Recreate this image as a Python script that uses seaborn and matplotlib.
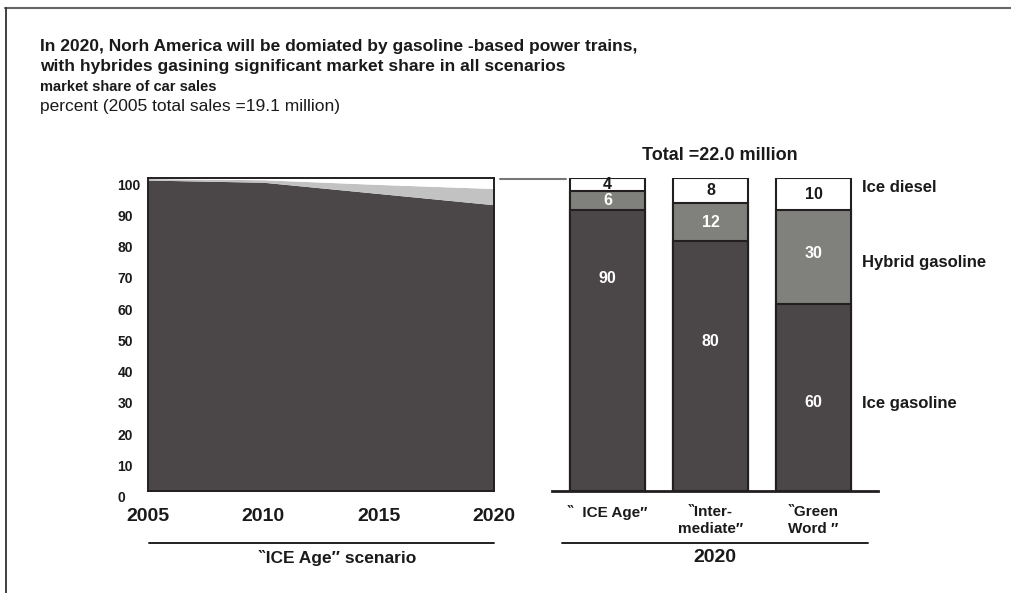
import numpy as np
import pandas as pd
import matplotlib
matplotlib.use("Agg")
import matplotlib.pyplot as plt
import matplotlib.transforms as mtransforms
from matplotlib.lines import Line2D
import seaborn as sns

# ---------------- data ----------------
years = [2005, 2010, 2015, 2020]
area_gasoline = [99.5, 98.8, 95.2, 91.6]
area_hybrid = [0.5, 0.8, 2.9, 5.2]
area_diesel = [0.0, 0.4, 1.9, 3.2]

scenarios = ["\u2036  ICE Age\u2033", "\u2036Inter-\nmediate\u2033", "\u2036Green\nWord \u2033"]
bar_gasoline = [90, 80, 60]
bar_hybrid = [6, 12, 30]
bar_diesel = [4, 8, 10]
series_names = ["Ice diesel", "Hybrid gasoline", "Ice gasoline"]

yticks = [0, 10, 20, 30, 40, 50, 60, 70, 80, 90, 100]

title_lines = ["In 2020, Norh America will be domiated by gasoline -based power trains,",
               "with hybrides gasining significant market share in all scenarios"]
subtitle = "market share of car sales"
unit_line = "percent (2005 total sales =19.1 million)"
total_text = "Total =22.0 million"
left_group = "\u2036ICE Age\u2033 scenario"
right_group = "2020"

# ---------------- style ----------------
sns.set_style("white")
FAM = ["Liberation Sans", "DejaVu Sans"]
plt.rcParams["font.family"] = FAM

DARK = "#4b4647"
HYB_BAR = "#80817c"
HYB_AREA = "#c2c2c2"
EDGE = "#231f20"
TXT = "#1a1a1a"

W, H = 1011, 593
fig = plt.figure(figsize=(W / 100, H / 100), dpi=100)
fig.patch.set_facecolor("white")

def fx(px):
    return px / W

def fy(py):
    return 1 - py / H

# ---------------- left: area chart ----------------
ax1 = fig.add_axes([fx(148), fy(491), fx(494) - fx(148), fy(178.5) - fy(491)])
ax1.stackplot(years, area_gasoline, area_hybrid, area_diesel,
              colors=[DARK, HYB_AREA, "white"], linewidth=0)
ax1.set_xlim(years[0], years[-1])
ax1.set_ylim(0, 100)
for s in ax1.spines.values():
    s.set_color(EDGE)
    s.set_linewidth(1.4)
ax1.set_xticks(years)
ax1.set_xticklabels([str(y) for y in years], fontsize=14, fontweight="bold", color=TXT)
ax1.tick_params(axis="x", length=0, pad=12)
ax1.set_yticks(yticks)
ax1.set_yticklabels([str(v) for v in yticks], fontsize=10, fontweight="bold", color=TXT,
                    ha="left")
ax1.tick_params(axis="y", which="major", length=0, pad=22)
ax1.set_yticks(yticks[1:-1], minor=True)
ax1.tick_params(axis="y", which="minor", direction="in", length=5, width=1.2,
                color="#d8d8d8", left=True)
off = mtransforms.ScaledTranslation(0, -4 / 72, fig.dpi_scale_trans)
for lab in ax1.get_yticklabels():
    lab.set_transform(lab.get_transform() + off)
ax1.set_xlabel("")
ax1.set_ylabel("")

# ---------------- right: stacked bars ----------------
ax2 = fig.add_axes([fx(552), fy(491), fx(878) - fx(552), fy(178.5) - fy(491)])
cum_h = [g + h for g, h in zip(bar_gasoline, bar_hybrid)]
cum_t = [g + h + d for g, h, d in zip(bar_gasoline, bar_hybrid, bar_diesel)]
df = pd.DataFrame({"scenario": scenarios, "gas": bar_gasoline, "gh": cum_h, "tot": cum_t})
bw = 0.73
for col, colr in [("tot", "white"), ("gh", HYB_BAR), ("gas", DARK)]:
    sns.barplot(data=df, x="scenario", y=col, color=colr, width=bw, ax=ax2,
                edgecolor=EDGE, linewidth=1.5, saturation=1)
ax2.set_xlim(-0.539, -0.539 + 326 / 103)
ax2.set_ylim(0, 100)
for k in ["top", "left", "right"]:
    ax2.spines[k].set_visible(False)
ax2.spines["bottom"].set_color(EDGE)
ax2.spines["bottom"].set_linewidth(2)
ax2.set_yticks([])
ax2.set_xlabel("")
ax2.set_ylabel("")
ax2.set_xticks(range(len(scenarios)))
ax2.set_xticklabels(scenarios, fontsize=11, fontweight="bold", color=TXT,
                    va="top", linespacing=1.3)
ax2.tick_params(axis="x", length=0, pad=10)

# value labels
gas_frac = [0.755, 0.6, 0.47]
for i in range(len(scenarios)):
    ax2.text(i, bar_gasoline[i] * gas_frac[i], str(bar_gasoline[i]), ha="center", va="center",
             color="white", fontsize=11.5, fontweight="bold")
    ax2.text(i, bar_gasoline[i] + bar_hybrid[i] / 2 + (1 if i == 2 else 0), str(bar_hybrid[i]),
             ha="center", va="center", color="white", fontsize=11.5, fontweight="bold")
    ax2.text(i, cum_h[i] + bar_diesel[i] / 2, str(bar_diesel[i]), ha="center", va="center",
             color=TXT, fontsize=11.5, fontweight="bold")

# series labels at right of last bar
last = len(scenarios) - 1
label_y = [cum_h[last] + bar_diesel[last] / 2 + 2,
           bar_gasoline[last] + bar_hybrid[last] / 2 - 2,
           bar_gasoline[last] / 2 - 2]
for name, yv in zip(series_names, label_y):
    ax2.text((862 - 552) / 326, yv, name, transform=ax2.get_yaxis_transform(),
             ha="left", va="center", fontsize=12, fontweight="bold", color=TXT)

# ---------------- titles / annotations ----------------
fig.text(fx(40), fy(47), title_lines[0], fontsize=12.5, fontweight="bold", color=TXT, va="center")
fig.text(fx(40), fy(67), title_lines[1], fontsize=12.5, fontweight="bold", color=TXT, va="center")
fig.text(fx(40), fy(87), subtitle, fontsize=10.5, fontweight="bold", color=TXT, va="center")
fig.text(fx(40), fy(106), unit_line, fontsize=12.5, color=TXT, va="center")
fig.text(fx(720), fy(155), total_text, fontsize=13, fontweight="bold", color=TXT,
         ha="center", va="center")
fig.text(fx(337), fy(558), left_group, fontsize=12.5, fontweight="bold", color=TXT,
         ha="center", va="center")
fig.text(fx(715), fy(558), right_group, fontsize=14, fontweight="bold", color=TXT,
         ha="center", va="center")

# bracket lines, connector, page frame
fig.add_artist(Line2D([fx(149), fx(494)], [fy(543), fy(543)], color=EDGE, lw=1.4))
fig.add_artist(Line2D([fx(562), fx(868)], [fy(543), fy(543)], color=EDGE, lw=1.4))
fig.add_artist(Line2D([fx(500), fx(566)], [fy(179), fy(179)], color="#777777", lw=1.5))
fig.add_artist(Line2D([fx(5), fx(1011)], [fy(8), fy(8)], color="#666666", lw=1.5))
fig.add_artist(Line2D([fx(6), fx(6)], [fy(8), fy(593)], color="#333333", lw=1.3))

fig.savefig("out.png", dpi=100, facecolor="white")
